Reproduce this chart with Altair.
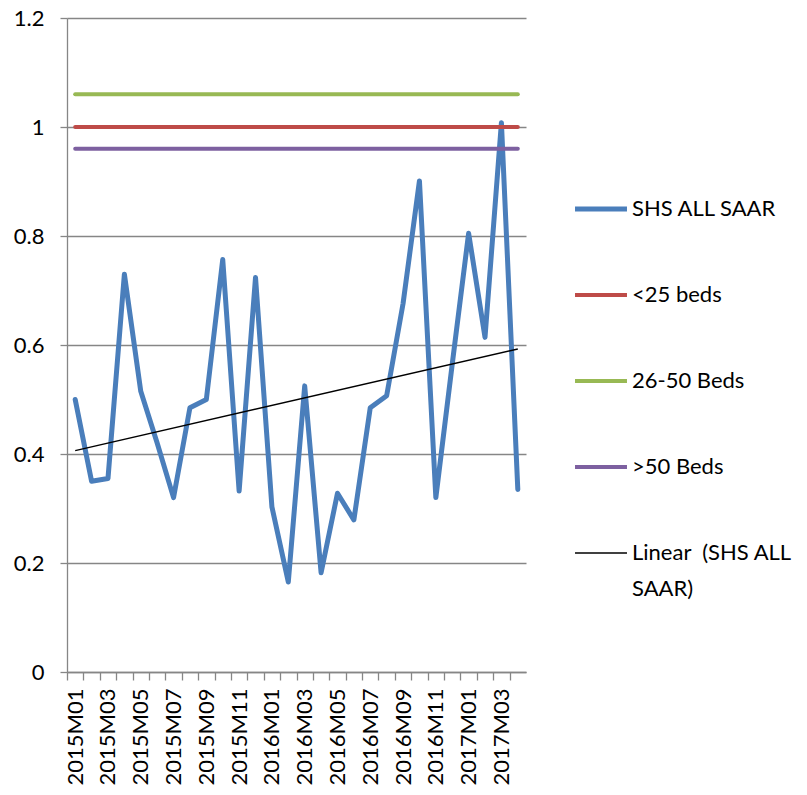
import altair as alt
import pandas as pd

months = ["2015M01","2015M02","2015M03","2015M04","2015M05","2015M06","2015M07","2015M08",
          "2015M09","2015M10","2015M11","2015M12","2016M01","2016M02","2016M03","2016M04",
          "2016M05","2016M06","2016M07","2016M08","2016M09","2016M10","2016M11","2016M12",
          "2017M01","2017M02","2017M03","2017M04"]
shs_all_saar = [0.50, 0.35, 0.355, 0.73, 0.515, 0.42, 0.32, 0.485, 0.50, 0.757, 0.332, 0.724,
                0.303, 0.165, 0.525, 0.182, 0.328, 0.279, 0.485, 0.507, 0.676, 0.901, 0.320,
                0.565, 0.805, 0.614, 1.008, 0.335]
lt25_beds = 1.0
b26_50_beds = 1.06
gt50_beds = 0.96

series_names = ["SHS ALL SAAR", "<25 beds", "26-50 Beds", ">50 Beds", "Linear  (SHS ALL SAAR)"]
series_colors = ["#4A7EBB", "#BE4B48", "#98B954", "#7D60A0", "#000000"]
y_ticks = [0, 0.2, 0.4, 0.6, 0.8, 1.0, 1.2]

rows = []
for i, m in enumerate(months):
    rows.append({"idx": i, "month": m, "series": "SHS ALL SAAR", "value": shs_all_saar[i]})
for name, v in [("<25 beds", lt25_beds), ("26-50 Beds", b26_50_beds), (">50 Beds", gt50_beds)]:
    for i, m in enumerate(months):
        rows.append({"idx": i, "month": m, "series": name, "value": v})
df = pd.DataFrame(rows)

W, H = 459, 654
step = W / len(months)
months_js = "[" + ",".join("'" + m + "'" for m in months) + "]"

x_enc = alt.X("idx:Q",
              scale=alt.Scale(domain=[-0.5, len(months) - 0.5], nice=False, zero=False),
              axis=alt.Axis(values=list(range(len(months) + 1)),
                            labelExpr=f"(datum.value % 2 == 0 && datum.value < {len(months)}) ? {months_js}[datum.value] : ''",
                            tickOffset=-step / 2, labelOffset=step / 2,
                            labelAngle=270, labelAlign="right", labelBaseline="middle",
                            labelPadding=8, tickSize=8, grid=False, title=None,
                            labelOverlap=False, labelFontSize=22))
y_enc = alt.Y("value:Q",
              scale=alt.Scale(domain=[0, 1.2], nice=False),
              axis=alt.Axis(values=y_ticks, format=".1~f", tickSize=7, labelPadding=16,
                            grid=True, title=None, labelFontSize=22))
color_enc = alt.Color("series:N",
                      scale=alt.Scale(domain=series_names, range=series_colors),
                      legend=alt.Legend(title=None, orient="none", legendX=523, legendY=180,
                                        symbolType="stroke", symbolSize=2700,
                                        symbolStrokeWidth=alt.ExprRef(
                                            "datum.value == 'Linear  (SHS ALL SAAR)' ? 1.5 : (datum.value == 'SHS ALL SAAR' ? 5 : 4)"),
                                        labelFont="Lato", labelFontSize=22, labelColor="#000",
                                        rowPadding=64, labelOffset=20, labelLimit=300,
                                        labelExpr="datum.label == 'Linear  (SHS ALL SAAR)' ? ['Linear \u00a0(SHS ALL', 'SAAR)'] : datum.label"))

base = alt.Chart(df)

shs_line = base.transform_filter(alt.datum.series == "SHS ALL SAAR").mark_line(
    strokeCap="round", strokeJoin="round", strokeWidth=5).encode(x=x_enc, y=y_enc, color=color_enc)

const_lines = base.transform_filter(alt.datum.series != "SHS ALL SAAR").mark_line(
    strokeCap="round", strokeJoin="round", strokeWidth=4).encode(x=x_enc, y=y_enc, color=color_enc)

trend = base.transform_filter(alt.datum.series == "SHS ALL SAAR").transform_regression(
    "idx", "value", method="linear").transform_calculate(
    series="'Linear  (SHS ALL SAAR)'").mark_line(strokeWidth=1.5).encode(
    x=x_enc, y=y_enc, color=color_enc)

chart = alt.layer(shs_line, const_lines, trend).properties(
    width=W, height=H,
    autosize=alt.AutoSizeParams(type="none"),
    padding={"left": 59, "top": 10, "right": 272, "bottom": 115},
).configure(
    style={"guide-label": {"lineHeight": 36}}
).configure_view(stroke=None).configure_axis(
    domainColor="#868686", domainWidth=1.3, tickColor="#868686", tickWidth=1.3,
    gridColor="#868686", gridWidth=1.3, labelFont="Lato", labelColor="#000",
)

chart.save("out.html", embed_options={"renderer": "svg", "actions": False})
